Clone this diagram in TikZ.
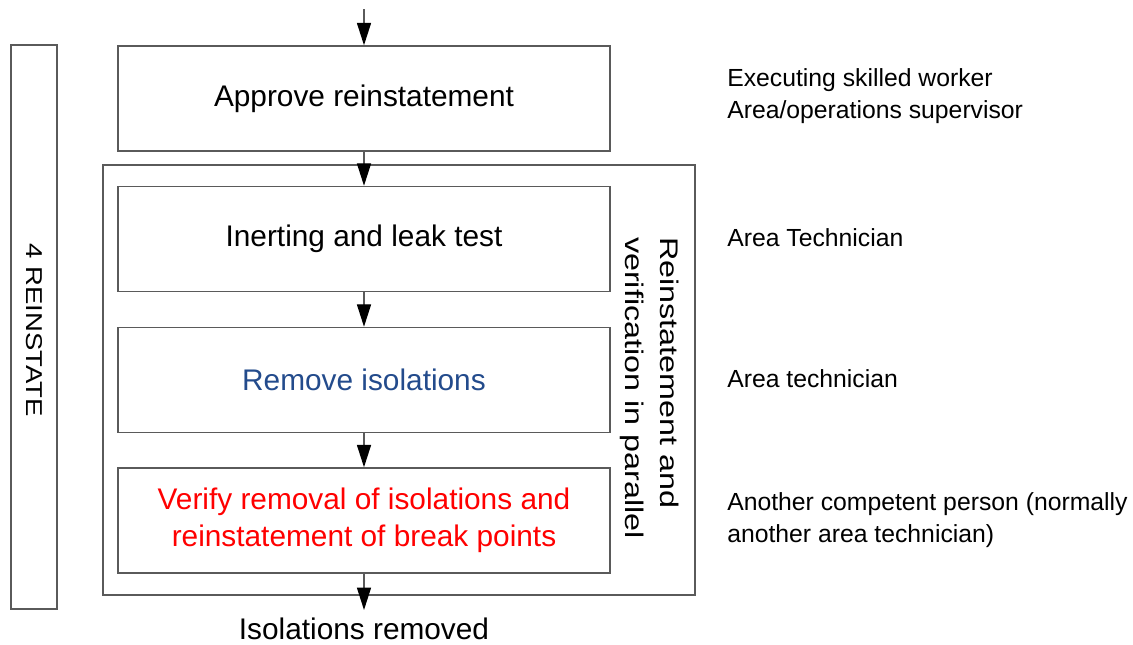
\documentclass[tikz,border=0pt]{standalone}
\usepackage{fontspec}
\setmainfont{Liberation Sans}
\usetikzlibrary{arrows.meta}
\definecolor{linegray}{RGB}{90,90,90}
\definecolor{stepblue}{RGB}{35,75,140}
\definecolor{stepred}{RGB}{255,0,0}

\begin{document}
\begin{tikzpicture}[x=0.025cm, y=-0.025cm,
        flow/.style={draw=linegray, line width=1pt, -{Triangle[length=16pt, width=10pt, color=black]}}]
        \useasboundingbox (0,0) rectangle (1133,645);

        % stage bar and the parallel frame
        \node (stage) [draw=linegray, line width=1pt, minimum width=1.15cm, minimum height=14.1cm, inner sep=0pt] at (34,327) {};
        \node (stagelbl) [rotate=-90, xscale=1.2, font=\fontsize{16.3pt}{19pt}\selectfont] at (34,330) {4 REINSTATE};
        \node (grp) [draw=linegray, line width=1pt, minimum width=14.8cm, minimum height=10.75cm, inner sep=0pt] at (399,380) {};
        \node (grplbl) [rotate=-90, xscale=1.27, align=left, font=\fontsize{18.1pt}{24.8pt}\selectfont] at (650,388) {Reinstatement and\\verification in parallel};

        \begin{scope}[every node/.style={rectangle, draw=linegray, line width=1pt, minimum width=12.3cm, minimum height=2.625cm, align=center, font=\fontsize{21.2pt}{26.2pt}\selectfont}]
            \node (approve) at (364,98.5) {Approve reinstatement};
            \node (inert) at (364,239) {Inerting and leak test};
            \node (remove) [text=stepblue] at (364,380) {Remove isolations};
            \node (verify) [text=stepred] at (364,520.5) {Verify removal of isolations and\\reinstatement of break points};
        \end{scope}

        \coordinate (start) at (364,9);
        \coordinate (finish) at (364,610);
        \node (done) [font=\fontsize{21.2pt}{26.2pt}\selectfont, inner sep=0pt] at (364,629) {Isolations removed};

        % who does each step
        \begin{scope}[every node/.style={anchor=west, align=left, inner sep=0pt, font=\fontsize{17.6pt}{22.7pt}\selectfont}]
            \node (who1) at (727,96) {Executing skilled worker\\Area/operations supervisor};
            \node (who2) at (727,238) {Area Technician};
            \node (who3) at (727,379) {Area technician};
            \node (who4) at (727,520) {Another competent person (normally\\another area technician)};
        \end{scope}

        \draw [flow] (start) -- (approve.north);
        \draw [flow] (approve) -- (inert);
        \draw [flow] (inert) -- (remove);
        \draw [flow] (remove) -- (verify);
        \draw [flow] (verify) -- (finish);
    \end{tikzpicture}
\end{document}
